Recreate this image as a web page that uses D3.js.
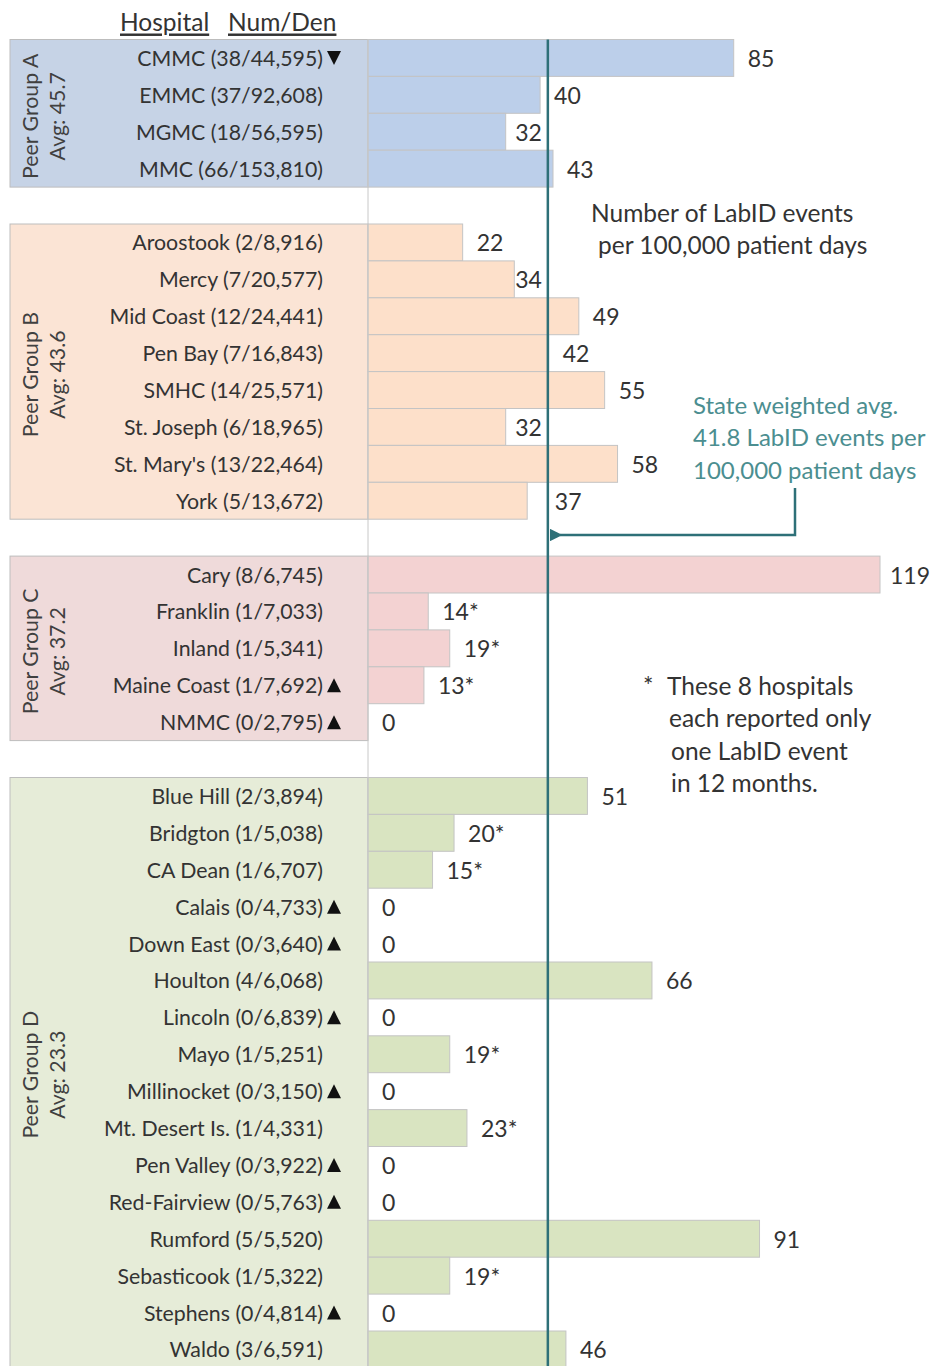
<!DOCTYPE html>
<html><head><meta charset="utf-8">
<script src="https://cdn.jsdelivr.net/npm/d3@7"></script>
<style>
html,body{margin:0;padding:0;background:#fff;}
svg{display:block;font-family:Lato,"Open Sans",sans-serif;}
</style></head>
<body><svg id="c" width="933" height="1366"></svg>
<script>
// ---------- DATA ----------
const groupNames = ["Peer Group A","Peer Group B","Peer Group C","Peer Group D"];
const groupAvgs = ["Avg: 45.7","Avg: 43.6","Avg: 37.2","Avg: 23.3"];
const hospitals = [
 ["CMMC","EMMC","MGMC","MMC"],
 ["Aroostook","Mercy","Mid Coast","Pen Bay","SMHC","St. Joseph","St. Mary's","York"],
 ["Cary","Franklin","Inland","Maine Coast","NMMC"],
 ["Blue Hill","Bridgton","CA Dean","Calais","Down East","Houlton","Lincoln","Mayo","Millinocket","Mt. Desert Is.","Pen Valley","Red-Fairview","Rumford","Sebasticook","Stephens","Waldo"]
];
const numDen = [
 ["38/44,595","37/92,608","18/56,595","66/153,810"],
 ["2/8,916","7/20,577","12/24,441","7/16,843","14/25,571","6/18,965","13/22,464","5/13,672"],
 ["8/6,745","1/7,033","1/5,341","1/7,692","0/2,795"],
 ["2/3,894","1/5,038","1/6,707","0/4,733","0/3,640","4/6,068","0/6,839","1/5,251","0/3,150","1/4,331","0/3,922","0/5,763","5/5,520","1/5,322","0/4,814","3/6,591"]
];
const rates = [
 [85,40,32,43],
 [22,34,49,42,55,32,58,37],
 [119,14,19,13,0],
 [51,20,15,0,0,66,0,19,0,23,0,0,91,19,0,46]
];
// "*" = only one LabID event; markers: up / down triangles
const starred = [
 [0,0,0,0],
 [0,0,0,0,0,0,0,0],
 [0,1,1,1,0],
 [0,1,1,0,0,0,0,1,0,1,0,0,0,1,0,0]
];
const markers = [
 ["down","","",""],
 ["","","","","","","",""],
 ["","","","up","up"],
 ["","","","up","up","","up","","up","","up","up","","","up",""]
];
const stateAvg = 41.8;
const xMax = 119;
const headerLabels = ["Hospital","Num/Den"];
const noteAvg = ["State weighted avg.","41.8 LabID events per","100,000 patient days"];
const noteUnits = ["Number of LabID events","per 100,000 patient days"];
const noteStar = ["These 8 hospitals","each reported only","one LabID event","in 12 months."];

// ---------- STYLE ----------
const bandFill = ["#c6d3e6","#fbe4d5","#efdada","#e6ecd8"];
const barFill  = ["#bccfea","#fde0ca","#f3d2d2","#d9e4c1"];
const textCol = "#333";
const teal = "#2e7078";
const tealText = "#4b8e90";

// ---------- BUILD ROWS ----------
const rows = [];
hospitals.forEach((hs,g)=>{
  hs.forEach((h,i)=>rows.push({key:"g"+g+"_"+i,g,name:h,nd:numDen[g][i],v:rates[g][i],star:starred[g][i],mk:markers[g][i]}));
  if(g<hospitals.length-1) rows.push({key:"gap"+g,gap:true});
});

const svg = d3.select("#c");
const W=933,H=1366;
const y = d3.scaleBand().domain(rows.map(r=>r.key)).range([39.5, 39.5+rows.length*36.9]).padding(0);
const x = d3.scaleLinear().domain([0,xMax]).range([368,880]);
const fsLab = 21.3, fsVal = 23, fsNote = 24.5, fsHead = 24.5;

// group bands in label area
hospitals.forEach((hs,g)=>{
  const y0 = y("g"+g+"_0"), y1 = y("g"+g+"_"+(hs.length-1))+y.bandwidth();
  svg.append("rect").attr("x",10).attr("y",y0).attr("width",x(0)-10).attr("height",y1-y0)
     .attr("fill",bandFill[g]).attr("stroke","#bdbdbd").attr("stroke-width",1);
  const cy=(y0+Math.min(y1,H))/2 + 3;
  const gt = svg.append("g").attr("transform",`translate(30,${cy}) rotate(-90)`);
  gt.append("text").attr("text-anchor","middle").attr("dominant-baseline","central")
    .attr("font-size",fsLab).attr("fill","#404040").text(groupNames[g]);
  gt.append("text").attr("y",27).attr("text-anchor","middle").attr("dominant-baseline","central")
    .attr("font-size",fsLab).attr("fill","#404040").text(groupAvgs[g]);
});

// bars
const dataRows = rows.filter(r=>!r.gap);
svg.append("g").selectAll("rect").data(dataRows.filter(r=>r.v>0)).join("rect")
  .attr("x",x(0)).attr("y",r=>y(r.key)).attr("width",r=>x(r.v)-x(0)).attr("height",y.bandwidth())
  .attr("fill",r=>barFill[r.g]).attr("stroke","#c4c4c4").attr("stroke-width",1);

// axis (category line)
const yAxis = d3.axisLeft(y).tickSize(0).tickFormat("");
svg.append("g").attr("transform",`translate(${x(0)},0)`).call(yAxis)
  .call(g=>g.select(".domain").attr("stroke","#c8c8c8").attr("d",`M0,${y.range()[0]}V${H}`));

// hospital labels
const lab = svg.append("g");
dataRows.forEach(r=>{
  const cy = y(r.key)+y.bandwidth()/2;
  lab.append("text").attr("x",323).attr("y",cy).attr("text-anchor","end").attr("dominant-baseline","central")
    .attr("font-size",fsLab).attr("fill",textCol).text(`${r.name} (${r.nd})`);
  if(r.mk){
    const s=7;
    const p = r.mk==="up" ? `M${-s},${s}L0,${-s}L${s},${s}Z` : `M${-s},${-s}L${s},${-s}L0,${s}Z`;
    lab.append("path").attr("transform",`translate(334,${cy})`).attr("d",p).attr("fill","#111");
  }
});

// state average line
const lx = x(stateAvg);
svg.append("line").attr("x1",lx).attr("x2",lx).attr("y1",y.range()[0]).attr("y2",H)
  .attr("stroke",teal).attr("stroke-width",2.5);

// value labels
const vl = svg.append("g");
dataRows.forEach(r=>{
  const cy = y(r.key)+y.bandwidth()/2;
  const t = vl.append("text").attr("dominant-baseline","central").attr("font-size",fsVal).attr("fill",textCol)
     .text(r.v + (r.star?"*":""));
  const w = t.node().getComputedTextLength();
  let lx0 = x(r.v)+14;
  if(lx0 < lx+6 && lx0+w > lx-6){
    if(x(r.v)+14+w/2 < lx) lx0 = lx-6-w; else lx0 = lx+7;
  }
  if(lx0 + w > W-3) lx0 = W-3-w;
  t.attr("x",lx0).attr("y",cy);
});

// header
const hd = svg.append("g");
[[120,headerLabels[0]],[228,headerLabels[1]]].forEach(([hx,s])=>{
  hd.append("text").attr("x",hx).attr("y",21).attr("dominant-baseline","central").attr("font-size",fsHead)
    .attr("fill",textCol).attr("text-decoration","underline").text(s);
});

// annotation: units
noteUnits.forEach((s,i)=>{
  svg.append("text").attr("x",[591,598][i]).attr("y",212+i*32).attr("dominant-baseline","central")
    .attr("font-size",fsNote).attr("fill",textCol).text(s);
});
// annotation: state avg
noteAvg.forEach((s,i)=>{
  svg.append("text").attr("x",693).attr("y",404+i*32.5).attr("dominant-baseline","central")
    .attr("font-size",fsNote-0.5).attr("fill",tealText).text(s);
});
// arrow
svg.append("defs").append("marker").attr("id","ah").attr("viewBox","0 0 10 10").attr("refX",2).attr("refY",5)
  .attr("markerWidth",5).attr("markerHeight",5).attr("orient","auto")
  .append("path").attr("d","M10,0L0,5L10,10Z").attr("fill",teal);
svg.append("path").attr("d",`M795,488V535H${lx+12}`).attr("fill","none").attr("stroke",teal)
  .attr("stroke-width",2.5).attr("marker-end","url(#ah)");
// footnote
svg.append("text").attr("x",643).attr("y",685).attr("dominant-baseline","central").attr("font-size",fsNote).attr("fill",textCol).text("*");
noteStar.forEach((s,i)=>{
  svg.append("text").attr("x",[667,669,671,671][i]).attr("y",685+i*32.5).attr("dominant-baseline","central")
    .attr("font-size",fsNote).attr("fill",textCol).text(s);
});
</script></body></html>
